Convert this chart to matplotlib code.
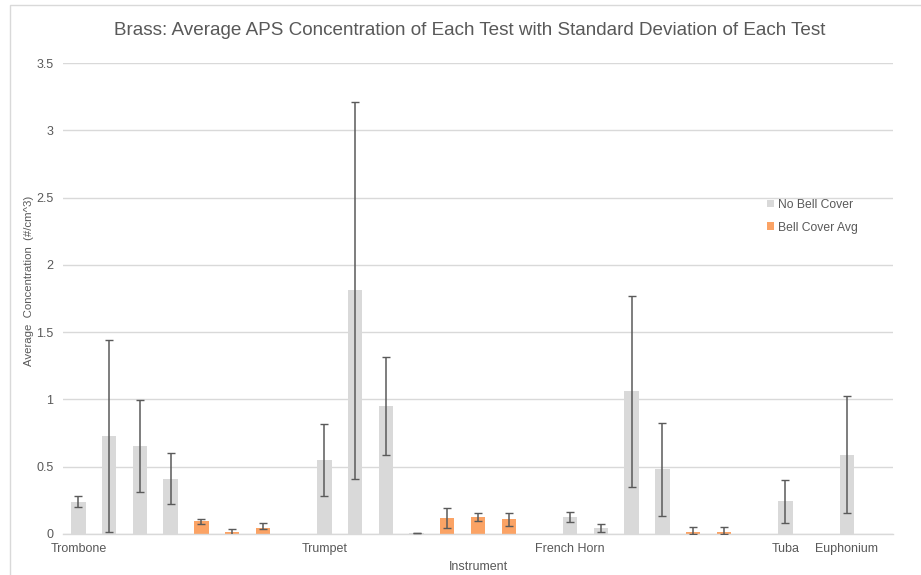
import numpy as np
import matplotlib
matplotlib.use('Agg')
from matplotlib import pyplot as plt
from matplotlib.patches import Rectangle
from matplotlib.ticker import FuncFormatter

nan = np.nan

# one slot per test, label only on the first test of each instrument
categories = ['Trombone', '', '', '', '', '', '', '',
              'Trumpet', '', '', '', '', '', '', '',
              'French Horn', '', '', '', '', '', '',
              'Tuba', '', 'Euphonium', '']

no_cover = [0.24, 0.73, 0.655, 0.41, nan, nan, nan, nan,
            0.55, 1.81, 0.95, 0.007, nan, nan, nan, nan,
            0.127, 0.045, 1.06, 0.48, nan, nan, nan,
            0.243, nan, 0.59, nan]
no_cover_sd = [0.04, 0.715, 0.34, 0.19, nan, nan, nan, nan,
               0.265, 1.40, 0.366, 0.003, nan, nan, nan, nan,
               0.039, 0.031, 0.71, 0.343, nan, nan, nan,
               0.158, nan, 0.433, nan]

bell_cover = [nan, nan, nan, nan, 0.097, 0.012, 0.042, nan,
              nan, nan, nan, nan, 0.117, 0.127, 0.109, nan,
              nan, nan, nan, nan, 0.015, 0.015, nan,
              nan, nan, nan, nan]
bell_sd_low = [nan, nan, nan, nan, 0.02, 0.028, 0.005, nan,
               nan, nan, nan, nan, 0.075, 0.03, 0.048, nan,
               nan, nan, nan, nan, 0.015, 0.015, nan,
               nan, nan, nan, nan]
bell_sd_high = [nan, nan, nan, nan, 0.018, 0.028, 0.042, nan,
                nan, nan, nan, nan, 0.075, 0.03, 0.048, nan,
                nan, nan, nan, nan, 0.04, 0.04, nan,
                nan, nan, nan, nan]

GRAY = '#d9d9d9'
ORANGE = '#fba365'
TXT = '#595959'
ERR = '#5a5a5a'

plt.rcParams['font.family'] = ['Liberation Sans', 'DejaVu Sans']

fig = plt.figure(figsize=(9.21, 5.75), dpi=100)
ax = fig.add_axes([63/921, 41/575, 830/921, 471/575])

x = np.arange(len(categories))
nc = np.array(no_cover)
bc = np.array(bell_cover)
m1 = np.isfinite(nc)
m2 = np.isfinite(bc)
w = 0.47

ax.bar(x[m1], nc[m1], width=w, color=GRAY, label='No Bell Cover', zorder=2)
ax.bar(x[m2], bc[m2], width=w, color=ORANGE, label='Bell Cover Avg', zorder=2)

ekw = dict(fmt='none', ecolor=ERR, elinewidth=1.1, capsize=2.6, capthick=1.0, zorder=3)
ax.errorbar(x[m1], nc[m1], yerr=np.array(no_cover_sd)[m1], **ekw)
ax.errorbar(x[m2], bc[m2],
            yerr=[np.array(bell_sd_low)[m2], np.array(bell_sd_high)[m2]], **ekw)

ax.set_xlim(-0.5, len(categories) - 0.5)
ax.set_ylim(0, 3.5)
ax.set_yticks(np.arange(0, 3.51, 0.5))
ax.yaxis.set_major_formatter(FuncFormatter(lambda v, p: '%g' % v))
ax.grid(axis='y', color=GRAY, linewidth=1, zorder=0)
ax.set_axisbelow(True)

lab_idx = [i for i, c in enumerate(categories) if c]
ax.set_xticks(lab_idx)
ax.set_xticklabels([categories[i] for i in lab_idx])
ax.tick_params(axis='both', length=0, colors=TXT, labelsize=9)
ax.tick_params(axis='x', pad=6.5)
ax.tick_params(axis='y', pad=7)

for s in ['top', 'right', 'left']:
    ax.spines[s].set_visible(False)
ax.spines['bottom'].set_color(GRAY)
ax.spines['bottom'].set_linewidth(1)

ax.set_xlabel('Instrument', color=TXT, fontsize=9, labelpad=4)
ax.set_ylabel('Average  Concentration  (#/cm^3)', color=TXT, fontsize=8.2, labelpad=6)
ax.yaxis.set_label_coords(-0.035, 0.537)
ax.set_title('Brass: Average APS Concentration of Each Test with Standard Deviation of Each Test',
             color=TXT, fontsize=13.6, pad=20, x=0.49)

leg = ax.legend(loc='upper left', bbox_to_anchor=(0.835, 0.735), frameon=False,
                fontsize=8.7, handlelength=0.6, handleheight=0.6, handletextpad=0.3,
                labelspacing=0.9)
for t in leg.get_texts():
    t.set_color(TXT)

# chart area outline
fig.patches.append(Rectangle((10/921, -0.1), 1.2, 1 - 5/575 + 0.1, transform=fig.transFigure,
                             fill=False, edgecolor=GRAY, linewidth=1))

fig.savefig('out.png', dpi=100)
